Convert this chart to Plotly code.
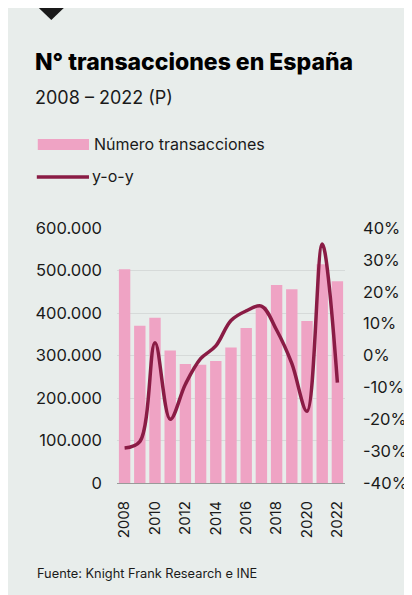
import plotly.graph_objects as go

years = list(range(2008, 2023))
transacciones = [503000, 370000, 389000, 312000, 280000, 278000, 287000, 319000,
                 365000, 415000, 466000, 456000, 381000, 515000, 475000]
yoy = [-29, -27, 4, -20, -9, -1, 3, 11, 14, 15.5, 8, -2.5, -17.5, 35, -8.5]

left_ticks = [0, 100000, 200000, 300000, 400000, 500000, 600000]
left_text = ["0", "100.000", "200.000", "300.000", "400.000", "500.000", "600.000"]
right_ticks = [-40, -30, -20, -10, 0, 10, 20, 30, 40]
right_text = ["-40%", "-30%", "-20%", "-10%", "0%", "10%", "20%", "30%", "40%"]
x_ticks = list(range(2008, 2023, 2))

BG = "#E8EDEB"
PINK = "#EFA3C4"
MAROON = "#8A1C45"
TXT = "#1A1A1A"
FONT = "Inter"

W, H = 412, 595
L, R, T, B = 109, 67, 220, 120
pw, ph = W - L - R, H - T - B


def px(x):
    return (x - L) / pw


def py(y):
    return (H - B - y) / ph


fig = go.Figure()
fig.add_trace(go.Bar(x=years, y=transacciones, marker_color=PINK, marker_line_width=0,
                     name="Número transacciones", yaxis="y"))
fig.add_trace(go.Scatter(x=years, y=yoy, mode="lines",
                         line=dict(color=MAROON, width=3.5, shape="spline", smoothing=1.0),
                         name="y-o-y", yaxis="y2"))

shapes = [
    dict(type="path", xref="paper", yref="paper",
         path=f"M {px(27)},{py(-1)} L {px(55)},{py(-1)} L {px(41)},{py(12)} Z",
         fillcolor="#1A1A1A", line_width=0),
    dict(type="rect", xref="paper", yref="paper", x0=px(27), x1=px(80), y0=py(142), y1=py(131),
         fillcolor=PINK, line_width=0),
    dict(type="line", xref="paper", yref="paper", x0=px(26), x1=px(80), y0=py(169), y1=py(169),
         line=dict(color=MAROON, width=3.5)),
]

annotations = [
    dict(text="N° transacciones en España", x=px(22), y=py(54), xref="paper", yref="paper",
         xanchor="left", yanchor="middle", showarrow=False,
         font=dict(family=FONT, size=23, color="#000", weight=800)),
    dict(text="2008 – 2022 (P)", x=px(22), y=py(89), xref="paper", yref="paper",
         xanchor="left", yanchor="middle", showarrow=False, font=dict(family=FONT, size=18, color=TXT)),
    dict(text="Número transacciones", x=px(83), y=py(136), xref="paper", yref="paper",
         xanchor="left", yanchor="middle", showarrow=False, font=dict(family=FONT, size=16, color=TXT)),
    dict(text="y-o-y", x=px(81), y=py(168), xref="paper", yref="paper",
         xanchor="left", yanchor="middle", showarrow=False, font=dict(family=FONT, size=16, color=TXT)),
    dict(text="Fuente: Knight Frank Research e INE", x=px(24), y=py(565), xref="paper", yref="paper",
         xanchor="left", yanchor="middle", showarrow=False, font=dict(family=FONT, size=12.8, color=TXT)),
]

fig.update_layout(
    width=W, height=H,
    margin=dict(l=L, r=R, t=T, b=B),
    paper_bgcolor=BG, plot_bgcolor=BG,
    showlegend=False,
    bargap=0.25,
    font=dict(family=FONT, size=16.5, color=TXT),
    shapes=shapes,
    annotations=annotations,
    xaxis=dict(tickvals=x_ticks, ticktext=[str(v) for v in x_ticks], tickangle=-90,
               range=[2007.5, 2022.5], showgrid=False, showline=True, linecolor="#9a9a9a",
               linewidth=1, ticks="", tickfont=dict(size=15, color=TXT), ticklabelstandoff=11),
    yaxis=dict(range=[0, 600000], tickvals=left_ticks, ticktext=left_text, showgrid=True,
               gridcolor="#D6DAD9", gridwidth=1, zeroline=False, showline=False, ticks="",
               tickfont=dict(size=16.5, color=TXT), ticklabelstandoff=14),
    yaxis2=dict(range=[-40, 40], tickvals=right_ticks, ticktext=right_text, overlaying="y",
                side="right", showgrid=False, zeroline=False, showline=False, ticks="",
                tickfont=dict(size=16.5, color=TXT), ticklabelstandoff=17),
)

fig.write_html("out.html")
